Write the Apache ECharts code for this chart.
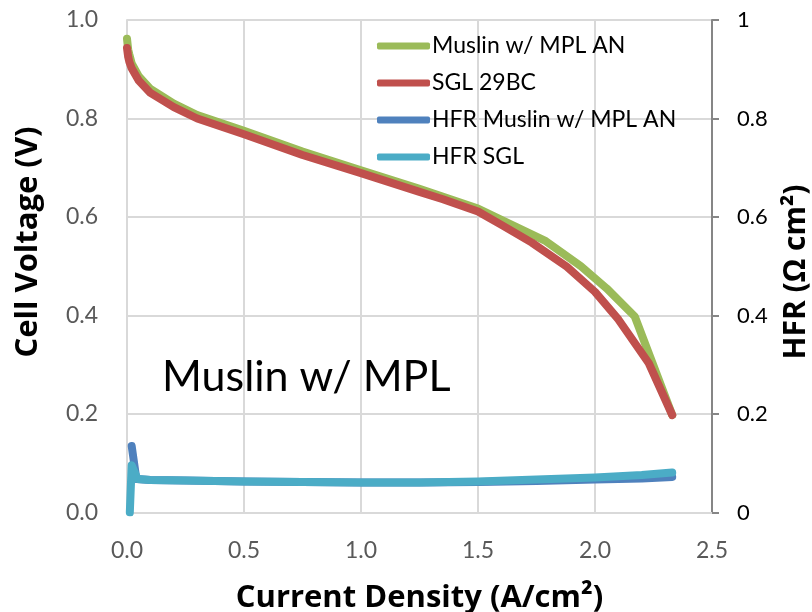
<!DOCTYPE html>
<html>
<head>
<meta charset="utf-8">
<script src="https://cdn.jsdelivr.net/npm/echarts@6/dist/echarts.min.js"></script>
<style>
html,body{margin:0;padding:0;background:#fff;}
#chart{width:812px;height:612px;}
</style>
</head>
<body>
<div id="chart"></div>
<script>
// Polarization curves (Cell Voltage, V) vs current density (A/cm2)
var muslinCurrent = [0, 0.005, 0.01, 0.02, 0.05, 0.1, 0.2, 0.3, 0.5, 0.75, 1.0, 1.25, 1.5, 1.6, 1.79, 1.94, 2.05, 2.17, 2.33];
var muslinVoltage = [0.962, 0.94, 0.93, 0.912, 0.886, 0.86, 0.83, 0.807, 0.775, 0.733, 0.695, 0.657, 0.617, 0.594, 0.551, 0.500, 0.455, 0.398, 0.198];
var sglCurrent = [0, 0.005, 0.01, 0.02, 0.05, 0.1, 0.2, 0.3, 0.5, 0.75, 1.0, 1.25, 1.35, 1.5, 1.6, 1.73, 1.88, 2.0, 2.1, 2.23, 2.33];
var sglVoltage = [0.943, 0.925, 0.915, 0.902, 0.877, 0.852, 0.823, 0.800, 0.768, 0.726, 0.689, 0.651, 0.636, 0.611, 0.584, 0.548, 0.499, 0.448, 0.392, 0.303, 0.198];
// HFR (Ohm cm2) vs current density
var hfrMuslinCurrent = [0.02, 0.04, 0.1, 0.25, 0.5, 0.75, 1.0, 1.25, 1.5, 1.75, 2.0, 2.2, 2.33];
var hfrMuslin = [0.135, 0.068, 0.066, 0.065, 0.063, 0.062, 0.061, 0.061, 0.062, 0.064, 0.067, 0.069, 0.072];
var hfrSglCurrent = [0.012, 0.02, 0.045, 0.1, 0.25, 0.5, 0.75, 1.0, 1.25, 1.5, 1.75, 2.0, 2.2, 2.33];
var hfrSgl = [0.0, 0.096, 0.068, 0.066, 0.065, 0.063, 0.062, 0.061, 0.061, 0.063, 0.067, 0.071, 0.076, 0.081];

var seriesNames = ['Muslin w/ MPL AN', 'SGL 29BC', 'HFR Muslin w/ MPL AN', 'HFR SGL'];
var seriesColors = ['#9bbb59', '#c0504d', '#4f81bd', '#4bacc6'];
var annotation = 'Muslin w/ MPL';
var xTitle = 'Current Density (A/cm²)';
var yLeftTitle = 'Cell Voltage (V)';
var yRightTitle = 'HFR (Ω cm²)';

function pairs(xs, ys) { return xs.map(function (x, i) { return [x, ys[i]]; }); }

var FONT = 'Lato, "Open Sans", sans-serif';
var TFONT = '"Open Sans", Lato, sans-serif';
var chart = echarts.init(document.getElementById('chart'), null, {renderer: 'canvas'});

function lineSeries(i, xs, ys, yIdx, z) {
  return {
    name: seriesNames[i], type: 'line', yAxisIndex: yIdx,
    data: pairs(xs, ys), showSymbol: false, symbol: 'none',
    lineStyle: {color: seriesColors[i], width: 8, cap: 'round', join: 'round'},
    itemStyle: {color: seriesColors[i]},
    z: z, animation: false
  };
}

chart.setOption({
  animation: false,
  textStyle: {fontFamily: FONT},
  grid: {left: 127, right: 100, top: 20, bottom: 99.5, containLabel: false, outerBoundsMode: 'none'},
  legend: {
    orient: 'vertical', left: 372, top: 29,
    itemWidth: 53, itemHeight: 7, itemGap: 13,
    icon: 'roundRect',
    textStyle: {fontFamily: FONT, fontSize: 23, color: '#000', lineHeight: 24, padding: [0,0,0,-3]},
    data: seriesNames
  },
  xAxis: {
    type: 'value', min: 0, max: 2.5, interval: 0.5,
    name: xTitle, nameLocation: 'middle', nameGap: 70,
    nameTextStyle: {fontFamily: TFONT, fontSize: 31, fontWeight: 'bold', color: '#000'},
    axisLine: {show: true, onZero: false, lineStyle: {color: '#d9d9d9', width: 2}},
    axisTick: {show: false},
    axisLabel: {fontSize: 23, color: '#595959', margin: 27, formatter: function (v) { return v.toFixed(1); }},
    splitLine: {show: true, lineStyle: {color: '#d9d9d9', width: 2}}
  },
  yAxis: [{
    type: 'value', min: 0, max: 1, interval: 0.2, position: 'left',
    axisLine: {show: true, lineStyle: {color: '#d9d9d9', width: 2}},
    axisTick: {show: false},
    axisLabel: {fontSize: 23, color: '#595959', margin: 29, formatter: function (v) { return v.toFixed(1); }},
    splitLine: {show: true, lineStyle: {color: '#d9d9d9', width: 2}}
  }, {
    type: 'value', min: 0, max: 1, interval: 0.2, position: 'right',
    axisLine: {show: true, lineStyle: {color: '#868686', width: 2}},
    axisTick: {show: true, inside: false, length: 7, lineStyle: {color: '#868686', width: 2}},
    axisLabel: {fontSize: 22, color: '#000', margin: 25, formatter: function (v) { return String(Math.round(v * 10) / 10); }},
    splitLine: {show: false}
  }],
  graphic: [{
    type: 'text', left: 162, top: 356, z: 50,
    style: {text: annotation, font: '43px ' + FONT, fill: '#000'}
  }, {
    type: 'text', x: 28, y: 242, rotation: Math.PI / 2, z: 50,
    style: {text: yLeftTitle, font: 'bold 31px ' + TFONT, fill: '#000', align: 'center', verticalAlign: 'middle'}
  }, {
    type: 'text', x: 796, y: 272, rotation: Math.PI / 2, z: 50,
    style: {text: yRightTitle, font: 'bold 30px ' + TFONT, fill: '#000', align: 'center', verticalAlign: 'middle'}
  }],
  series: [
    lineSeries(0, muslinCurrent, muslinVoltage, 0, 2),
    lineSeries(1, sglCurrent, sglVoltage, 0, 3),
    lineSeries(2, hfrMuslinCurrent, hfrMuslin, 1, 4),
    lineSeries(3, hfrSglCurrent, hfrSgl, 1, 5)
  ]
});
</script>
</body>
</html>
